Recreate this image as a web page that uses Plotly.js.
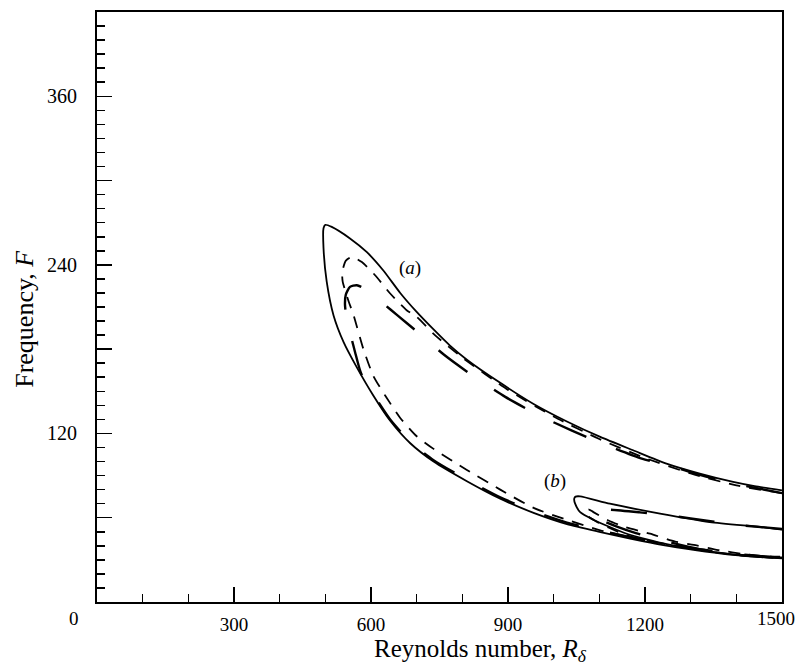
<!DOCTYPE html>
<html>
<head>
<meta charset="utf-8">
<script src="https://cdn.plot.ly/plotly-3.0.1.min.js"></script>
<style>html,body{margin:0;padding:0;background:#fff;}#chart{width:798px;height:668px;}</style>
</head>
<body>
<div id="chart"></div>
<script>
// Curve (a): solid, long-dashed, short-dashed neutral-stability loops
var aSolidX = [1500,1440,1393,1320,1247,1174,1102,1029,956,883,810,773,737,700,664,627,591,554,514,500,496,496,503,518,540,569,605,642,686,737,810,883,956,1029,1100,1170,1240,1310,1380,1440,1500];
var aSolidY = [79.5,82.5,85.5,91.4,98.5,108,117.5,128.5,141,156,172.5,182.5,194,206.5,220,236,249,258.8,267,268.5,266,252,228,204,185,167,147,129,113,100,86,73.5,63.5,55.5,50,45,40.5,37,34,32.3,31];

var aLongX = [1500,1393,1320,1255,1193,1116,1040,967,894,821,760,697,658,627,598,569,554,545,543,548,557,565,578,605,642,686,737,810,883,956,1029,1100,1170,1240,1310,1380,1440,1500];
var aLongY = [77.5,84.5,90.5,97,102,111.6,122,133,146,161.5,176,193.5,204,212.5,220.8,225.5,224.3,219,212,198,188,178,163,148,130,114,101,87,74.5,64.5,56.5,51,46,41.5,38,35,33,32];

var aShortX = [1500,1400,1300,1200,1100,1000,900,800,740,700,678,642,609,580,558,545,537,538,550,562,583,605,631,664,700,737,810,883,956,1029,1102,1170,1240,1320,1400,1500];
var aShortY = [77.5,83,91.5,102.5,116,132,151,174,190,203,207.7,219.6,232.6,242,245.7,243,235,228,215,204,180.4,161,147,131,118,109,94,80,67,58.5,51,46,41.5,37,33.5,31.5];

// Curve (b)
var bSolidX = [1500,1452,1342,1233,1123,1058,1048,1045,1047,1058,1087,1123,1160,1204,1250,1310,1380,1440,1500];
var bSolidY = [51.5,53.4,56.9,62.9,70,75.2,75,73.6,70,64,58.6,53.4,48.6,44.6,41,37.5,34.5,32.3,31.2];

var bLongX = [1500,1400,1300,1255,1189,1123,1100,1092,1094,1110,1140,1180,1230,1280,1330,1400,1500];
var bLongY = [52,55,59.5,61.5,63.8,65.7,65.5,64,61,57.5,53.5,49,44.5,40.5,37,33.8,31.3];

var bShortX = [1500,1420,1360,1313,1266,1211,1156,1120,1087,1076,1072,1076,1095,1120,1160,1200,1250];
var bShortY = [31.5,34,37,40.3,43,48.6,53.4,58,64,66,64,61,57,53,47.5,44,40.5];

// Axis ticks
var xTickVals = [300,600,900,1200];
var xTickText = ['300','600','900','1200'];
var yTickVals = [120,240,360];
var yTickText = ['120','240','360'];
var yLongTickVals = [60,180,300,420];

var FONT = 'Liberation Serif';
var solid = {color:'#000', width:1.8, dash:'solid'};
var longd = {color:'#000', width:2.4, dash:'36px,32px'};
var shortd = {color:'#000', width:1.8, dash:'12px,9px'};

function tr(x,y,line){return {x:x,y:y,mode:'lines',line:Object.assign({shape:'spline',smoothing:0.6},line),hoverinfo:'skip',showlegend:false};}
var data = [
  tr(aSolidX,aSolidY,solid), tr(aLongX,aLongY,longd), tr(aShortX,aShortY,shortd),
  tr(bSolidX,bSolidY,solid), tr(bLongX,bLongY,longd), tr(bShortX,bShortY,shortd),
  {x:[null], y:[null], yaxis:'y2', mode:'lines', showlegend:false, hoverinfo:'skip'}
];

var layout = {
  width:798, height:668,
  margin:{l:97,r:16,t:12,b:66},
  paper_bgcolor:'#fff', plot_bgcolor:'#fff',
  font:{family:FONT, color:'#000', size:19},
  xaxis:{
    range:[0,1500], tickvals:xTickVals, ticktext:xTickText,
    ticks:'inside', ticklen:15, tickwidth:1.5, tickcolor:'#000',
    minor:{dtick:100, tick0:0, ticks:'inside', ticklen:8, tickwidth:1.5, tickcolor:'#000', showgrid:false},
    showline:true, linewidth:2, linecolor:'#000', mirror:true,
    showgrid:false, zeroline:false, ticklabelstandoff:4,
    tickfont:{family:FONT,size:19,color:'#000'}
  },
  yaxis:{
    range:[0,420], tickvals:yTickVals, ticktext:yTickText,
    ticks:'inside', ticklen:15, tickwidth:1.5, tickcolor:'#000',
    minor:{dtick:10, tick0:0, ticks:'inside', ticklen:8, tickwidth:1.5, tickcolor:'#000', showgrid:false},
    showline:true, linewidth:2, linecolor:'#000', mirror:true,
    showgrid:false, zeroline:false, ticklabelstandoff:14,
    tickfont:{family:FONT,size:20,color:'#000'}
  },
  yaxis2:{
    range:[0,420], overlaying:'y', side:'left', tickvals:yLongTickVals,
    ticks:'inside', ticklen:15, tickwidth:1.5, tickcolor:'#000',
    showticklabels:false, showline:false, showgrid:false, zeroline:false
  },
  annotations:[
    {x:685, y:238, xref:'x', yref:'y', text:'(<i>a</i>)', showarrow:false, font:{family:FONT,size:19,color:'#000'}},
    {x:1002, y:86, xref:'x', yref:'y', text:'(<i>b</i>)', showarrow:false, font:{family:FONT,size:19,color:'#000'}},
    {x:0, y:0, xref:'paper', yref:'paper', text:'0', showarrow:false, xanchor:'center', yanchor:'top', xshift:-23, yshift:-4, font:{family:FONT,size:19,color:'#000'}},
    {x:1, y:0, xref:'paper', yref:'paper', text:'1500', showarrow:false, xanchor:'right', yanchor:'top', xshift:15, yshift:-4, font:{family:FONT,size:19,color:'#000'}},
    {x:0.56, y:0, xref:'paper', yref:'paper', text:'Reynolds number, <i>R</i><sub><i>δ</i></sub>', showarrow:false, xanchor:'center', yanchor:'bottom', yshift:-66, font:{family:FONT,size:25,color:'#000'}},
    {x:0, y:0.48, xref:'paper', yref:'paper', text:'Frequency, <i>F</i>', textangle:-90, showarrow:false, xanchor:'center', yanchor:'middle', xshift:-72, font:{family:FONT,size:26,color:'#000'}}
  ]
};
Plotly.newPlot('chart', data, layout, {staticPlot:true, displayModeBar:false});
</script>
</body>
</html>
